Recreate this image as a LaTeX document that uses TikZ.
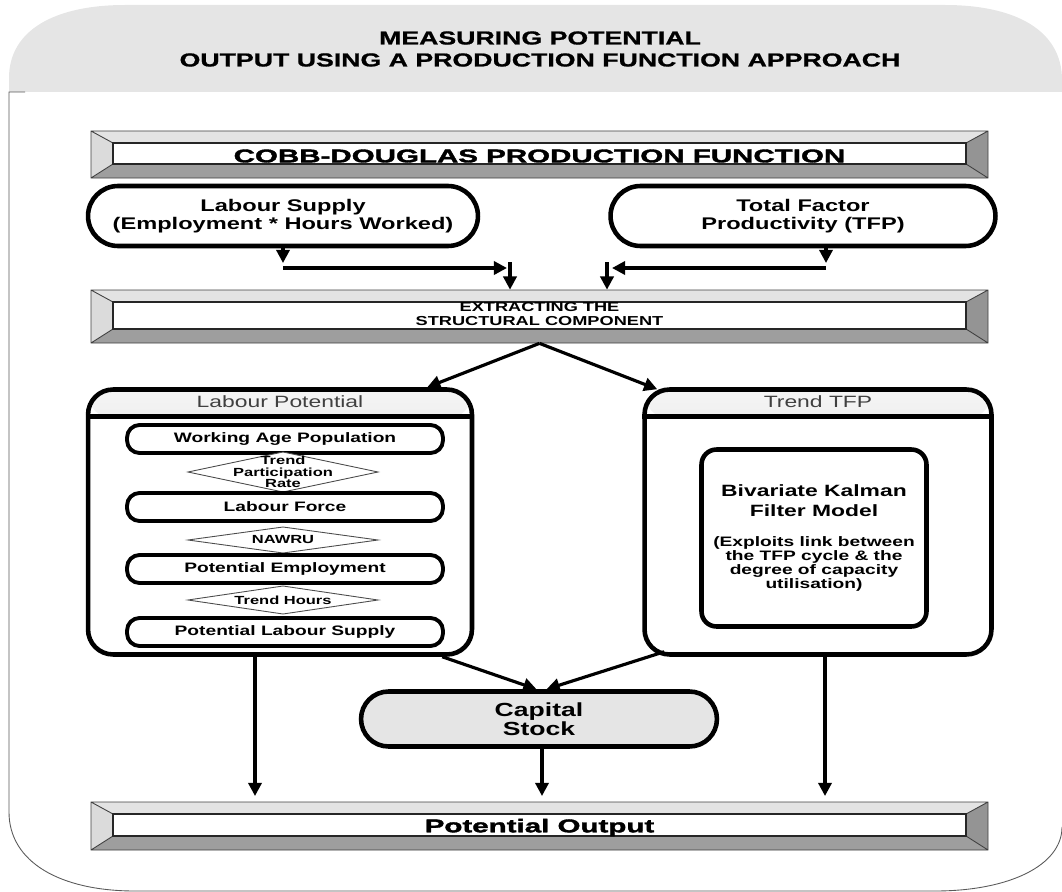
\documentclass[tikz,border=0pt]{standalone}
\usepackage{fontspec}
\setmainfont{Liberation Sans}[FakeStretch=1.4]
\newfontfamily\heavyfont{Liberation Sans}[FakeStretch=1.6,FakeBold=2]
\newfontfamily\headfont{Liberation Sans}[FakeStretch=1.42,FakeBold=1]
\usetikzlibrary{arrows.meta,fit}

\newcommand{\kbig}{\fontsize{9.3}{11}\selectfont}
\newcommand{\ksmall}{\fontsize{7.8}{8}\selectfont}

\tikzset{
  flow/.style={line width=1.8pt,-{Triangle[length=7.5pt,width=7.5pt]}},
  pill/.style={draw,line width=2.6pt,rounded corners=0.6cm,fill=white,align=center,
    font=\bfseries\fontsize{9.6}{10.4}\selectfont},
  panel/.style={draw,line width=2.6pt,rounded corners=0.5cm,minimum height=5.3cm,
    path picture={\shade[top color=black!4,bottom color=black!22]
      (path picture bounding box.north west) rectangle ([yshift=-0.58cm]path picture bounding box.north east);}},
  paneltitle/.style={font=\fontsize{9.3}{10}\selectfont,text=black!75},
  stage/.style={draw,line width=2.2pt,rounded corners=0.25cm,fill=white,minimum width=6.32cm,
    minimum height=0.56cm,inner sep=0pt,font=\bfseries\fontsize{7.8}{8}\selectfont},
  gateline/.style={draw=black!70,line width=0.5pt,fill=white},
  gatetext/.style={align=center,inner sep=0pt,font=\bfseries\fontsize{6.7}{6.6}\selectfont}
}

% bevelled bar: name, x1, y1, x2, y2, text options, text
\newcommand{\bevelbar}[7]{%
  \fill[black!11] (#2,#3) -- (#4,#3) -- (#4-22,#3+12) -- (#2+22,#3+12) -- cycle;
  \fill[black!38] (#2,#5) -- (#4,#5) -- (#4-22,#5-14) -- (#2+22,#5-14) -- cycle;
  \fill[black!14] (#2,#3) -- (#2+22,#3+12) -- (#2+22,#5-14) -- (#2,#5) -- cycle;
  \fill[black!42] (#4,#3) -- (#4-22,#3+12) -- (#4-22,#5-14) -- (#4,#5) -- cycle;
  \draw[black!75,line width=0.5pt] (#2,#3) rectangle (#4,#5)
    (#2,#3) -- (#2+22,#3+12) (#4,#3) -- (#4-22,#3+12)
    (#2,#5) -- (#2+22,#5-14) (#4,#5) -- (#4-22,#5-14);
  \draw[black!85,line width=0.9pt,fill=white] (#2+22,#3+12) rectangle (#4-22,#5-14);
  \node[fit={(#2,#3) (#4,#5)},inner sep=0pt] (#1) {};
  \node[align=center,inner sep=0pt,#6] (#1text) at (#1.center) {#7};
}

% rate diamond: name, x, y, half height, text
\newcommand{\rategate}[5]{%
  \draw[gateline] (#2-95,#3) -- (#2,#3-#4) -- (#2+95,#3) -- (#2,#3+#4) -- cycle;
  \node[gatetext] (#1) at (#2,#3) {#5};
}

\begin{document}
\begin{tikzpicture}[x=0.02cm,y=-0.02cm]
\useasboundingbox (0,0) rectangle (1062,892);

% frame
\fill[black!10] (9,92) -- (9,78) .. controls (9,30) and (55,5) .. (125,5) -- (945,5)
  .. controls (1015,5) and (1062,30) .. (1062,80) -- (1062,92) -- cycle;
\draw[black!65,line width=0.5pt] (25,92) -- (9,92) -- (9,812) .. controls (9,862) and (60,891) .. (135,891)
  -- (935,891) .. controls (1010,891) and (1062,865) .. (1062,827);
\node[font=\headfont\bfseries\fontsize{10.7}{12.5}\selectfont,align=center] (title) at (540,49)
  {MEASURING POTENTIAL\\OUTPUT USING A PRODUCTION FUNCTION APPROACH};

\bevelbar{cobb}{91}{131}{988}{178}{yshift=-0.03cm,font=\heavyfont\bfseries\fontsize{10.5}{12}\selectfont}{COBB-DOUGLAS PRODUCTION FUNCTION}
\bevelbar{extract}{91}{290}{988}{343}{yshift=0.05cm,font=\bfseries\fontsize{7.4}{8}\selectfont}{EXTRACTING THE\\STRUCTURAL COMPONENT}
\bevelbar{output}{91}{802}{988}{850}{yshift=-0.03cm,font=\heavyfont\bfseries\fontsize{10.5}{12}\selectfont}{Potential Output}

% inputs
\node[pill,minimum width=7.8cm,minimum height=1.2cm] (labsup) at (283,216) {Labour Supply\\(Employment * Hours Worked)};
\node[pill,minimum width=7.7cm,minimum height=1.2cm] (tfp) at (803,216) {Total Factor\\Productivity (TFP)};

\coordinate (lsjoin) at (283,268);
\coordinate (lsend) at (507,268);
\coordinate (lsdrop) at (510,262);
\coordinate (tfjoin) at (826,268);
\coordinate (tfend) at (612,268);
\coordinate (tfdrop) at (607,262);
\draw[flow] (labsup.south) -- ([yshift=0.1cm]lsjoin);
\draw[flow,line width=2.6pt] (lsjoin) -- (lsend);
\draw[flow] (lsdrop) -- (extract.north -| lsdrop);
\draw[flow] (tfp.south -| tfjoin) -- ([yshift=0.1cm]tfjoin);
\draw[flow,line width=2.6pt] (tfjoin) -- (tfend);
\draw[flow] (tfdrop) -- (extract.north -| tfdrop);

% labour potential
\node[panel,minimum width=7.68cm] (labpot) at (280,522) {};
\draw[line width=2.6pt] ([yshift=-0.58cm]labpot.north west) -- ([yshift=-0.58cm]labpot.north east);
\node[paneltitle] (labpottitle) at ([yshift=-0.29cm]labpot.north) {Labour Potential};
\node[stage] (wap) at (285,439) {Working Age Population};
\rategate{tpr}{283}{472}{20}{Trend\\Participation\\Rate}
\node[stage] (lf) at (285,507) {Labour Force};
\rategate{nawru}{283}{540}{13}{NAWRU}
\node[stage] (pe) at (285,569) {Potential Employment};
\rategate{hours}{283}{600}{14}{Trend Hours}
\node[stage] (pls) at (285,632) {Potential Labour Supply};

% trend tfp
\node[panel,minimum width=6.94cm] (trendtfp) at (818,522) {};
\draw[line width=2.6pt] ([yshift=-0.58cm]trendtfp.north west) -- ([yshift=-0.58cm]trendtfp.north east);
\node[paneltitle] (trendtfptitle) at ([yshift=-0.29cm]trendtfp.north) {Trend TFP};
\node[draw,line width=2.6pt,rounded corners=0.3cm,minimum width=4.5cm,minimum height=3.54cm,
  align=center,font=\bfseries\ksmall] (kalman) at (814,538)
  {\kbig Bivariate Kalman\\[3pt]\kbig Filter Model\\[9pt](Exploits link between\\the TFP cycle \& the\\degree of capacity\\utilisation)};

\draw[flow] (extract.south) -- ([xshift=-0.94cm]labpot.north east);
\draw[flow] (extract.south) -- ([xshift=0.3cm,yshift=-0.04cm]trendtfp.north west);

% capital
\node[pill,fill=black!10,minimum width=7.12cm,minimum height=1.1cm,rounded corners=0.55cm,
  font=\bfseries\fontsize{10.8}{11}\selectfont] (capital) at (539,719) {Capital\\Stock};
\draw[flow] ([xshift=-0.64cm]labpot.south east) -- ([xshift=-0.05cm]capital.north);
\draw[flow] ([xshift=0.44cm,yshift=0.1cm]trendtfp.south west) -- ([xshift=0.15cm]capital.north);

\coordinate (colL) at (255,796);
\coordinate (colM) at (542,796);
\coordinate (colR) at (825,796);
\draw[flow] (labpot.south -| colL) -- (colL);
\draw[flow] (capital.south -| colM) -- (colM);
\draw[flow] (trendtfp.south -| colR) -- (colR);
\end{tikzpicture}
\end{document}
